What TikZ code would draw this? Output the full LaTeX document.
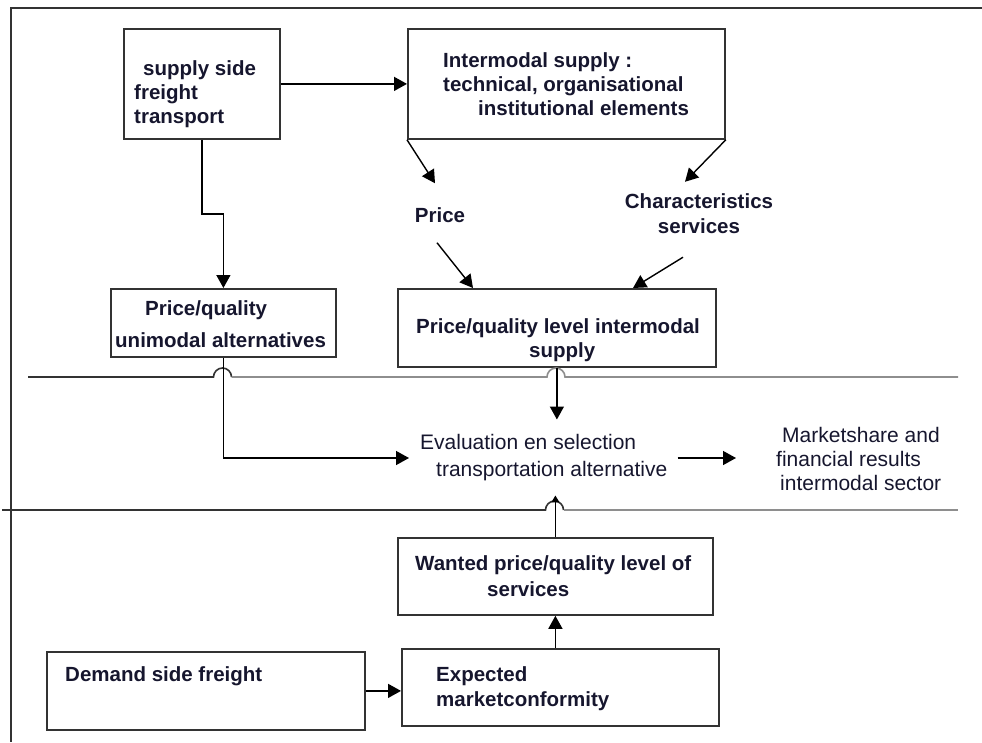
\documentclass[tikz,border=0pt]{standalone}
\usepackage{fontspec}
\setmainfont{Liberation Sans}
\usetikzlibrary{arrows.meta,calc}
\definecolor{ink}{HTML}{16162E}
\definecolor{edge}{HTML}{333333}
\definecolor{pale}{HTML}{8E8E8E}

\begin{document}
\begin{tikzpicture}[x=1pt,y=-1pt,
    box/.style = {draw=edge, line width=1.8pt, inner sep=0pt, anchor=north west},
    txt/.style = {font=\bfseries\fontsize{20.5}{24}\selectfont, text=ink, align=left, inner sep=0pt, anchor=west},
    thin/.style = {font=\fontsize{21}{25}\selectfont, text=ink, align=left, inner sep=0pt, anchor=west},
    arr/.style = {draw=black, line width=1.4pt, -{Triangle[length=13pt,width=14pt]}},
    tiny/.style = {draw=black, line width=1.4pt, -{Triangle[length=7pt,width=8pt]}},
    rule/.style = {line width=1.6pt}]
\useasboundingbox (0,0) rectangle (982,742);
% frame
\draw[edge, line width=2.6pt] (982,8) -- (11,8) -- (11,742);

% boxes
\node[box, minimum width=156pt, minimum height=110pt] (supply) at (123,28) {};
\node[box, minimum width=317pt, minimum height=110pt] (inter) at (407,28) {};
\node[box, minimum width=225pt, minimum height=68pt] (unimodal) at (110,288) {};
\node[box, minimum width=318pt, minimum height=78pt] (levelsup) at (397,288) {};
\node[box, minimum width=315pt, minimum height=77pt] (wanted) at (397,537) {};
\node[box, minimum width=317pt, minimum height=77pt] (expected) at (401,648) {};
\node[box, minimum width=318pt, minimum height=78pt] (demand) at (46,651) {};

% texts
\node[txt] (supplytxt) at (134,94) {\hspace{9pt}supply side\\freight\\transport};
\node[txt] (intertxt) at (443,84) {Intermodal supply :\\technical, organisational\\\hspace{35pt}institutional elements};
\node[txt, anchor=center] (price) at (440,215) {Price};
\node[txt, anchor=center, align=center, font=\bfseries\fontsize{20.5}{25}\selectfont] (chars) at (699,214) {Characteristics\\services};
\node[txt] (unitxt) at (115,324) {\hspace{30pt}Price/quality\\[8pt]unimodal alternatives};
\node[txt] (leveltxt) at (416,340) {Price/quality level intermodal\\\hspace{113pt}supply};
\node[thin] (eval) at (420,458) {Evaluation en selection\\[2pt]\hspace{16pt}transportation alternative};
\node[thin, font=\fontsize{21}{24}\selectfont] (market) at (776,459) {\hspace{6pt}Marketshare and\\financial results\\\hspace{4pt}intermodal sector};
\node[txt, font=\bfseries\fontsize{20.5}{26}\selectfont] (wantedtxt) at (415,576) {Wanted price/quality level of\\\hspace{72pt}services};
\node[txt, font=\bfseries\fontsize{20.5}{25}\selectfont] (exptxt) at (436,689) {Expected\\marketconformity};
\node[txt] (demandtxt) at (65,676) {Demand side freight};

% separator lines with hops
\draw[edge, rule] (28,377) -- (213.5,377) arc[start angle=180, end angle=0, radius=9pt];
\draw[pale, rule] (231.5,377) -- (547,377) arc[start angle=180, end angle=0, radius=9pt] -- (958,377);
\draw[edge, rule] (2,510) -- (545.5,510) arc[start angle=180, end angle=0, radius=9pt];
\draw[pale, rule] (563.5,510) -- (958,510);

% connectors
\draw[arr] (supply) -- (inter);
\draw[arr] (supply.south) -- ++(0,74) -| (unimodal.north);
\draw[arr] (inter.south west) -- ($(price.north)+(-5,-24)$);
\draw[arr] (inter.south east) -- ($(chars.north)+(-14,-12)$);
\draw[arr] ($(price.south)+(-3,20)$) -- ([xshift=76pt]levelsup.north west);
\draw[arr] ($(chars.south)+(-16,23)$) -- ([xshift=236pt]levelsup.north west);
\draw[arr] (unimodal.south) |- ([xshift=-11pt]eval.west);
\draw[arr] (levelsup.south) -- ([yshift=15pt]eval.north -| levelsup.south);
\draw[arr] ([xshift=10pt]eval.east) -- ([xshift=-40pt]market.west |- eval.east);
\draw[tiny] (wanted.north) -- ([yshift=-14pt]eval.south -| wanted.north);
\draw[arr] (demand.east) -- (demand.east -| expected.west);
\draw[arr] (expected.north -| wanted.south) -- (wanted.south);
\end{tikzpicture}
\end{document}
